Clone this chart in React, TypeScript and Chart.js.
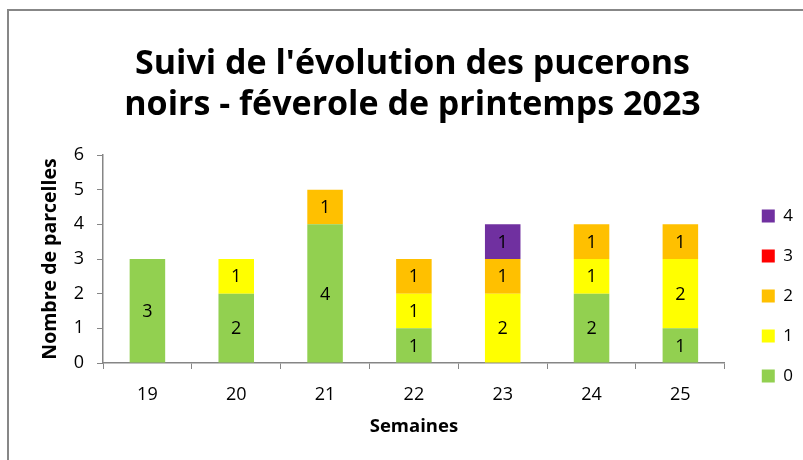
import React, { useEffect, useRef } from "react";
import { Chart, registerables } from "chart.js";

Chart.register(...registerables);

const weeks = ["19", "20", "21", "22", "23", "24", "25"];
const level0 = [3, 2, 4, 1, 0, 2, 1];
const level1 = [0, 1, 0, 1, 2, 1, 2];
const level2 = [0, 0, 1, 1, 1, 1, 1];
const level3 = [0, 0, 0, 0, 0, 0, 0];
const level4 = [0, 0, 0, 0, 1, 0, 0];
const seriesNames = ["0", "1", "2", "3", "4"];
const seriesColors = ["#92D050", "#FFFF00", "#FFC000", "#FF0000", "#7030A0"];
const titleLines = ["Suivi de l'évolution des pucerons", "noirs - féverole de printemps 2023"];
const yAxisTitle = "Nombre de parcelles";
const xAxisTitle = "Semaines";
const yMax = 6;

const FONT = "'Open Sans', sans-serif";

const valueLabels = {
  id: "valueLabels",
  afterDatasetsDraw(chart: any) {
    const ctx = chart.ctx;
    ctx.save();
    ctx.font = `18px ${FONT}`;
    ctx.fillStyle = "#000";
    ctx.textAlign = "center";
    ctx.textBaseline = "middle";
    chart.data.datasets.forEach((ds: any, i: number) => {
      const meta = chart.getDatasetMeta(i);
      meta.data.forEach((el: any, j: number) => {
        const v = ds.data[j];
        if (!v) return;
        ctx.fillText(String(v), el.x, (el.y + el.base) / 2 + 1);
      });
    });
    ctx.restore();
  },
};

export default function App() {
  const ref = useRef<HTMLCanvasElement>(null);
  useEffect(() => {
    if (!ref.current) return;
    const series = [level0, level1, level2, level3, level4];
    const chart = new Chart(ref.current, {
      type: "bar",
      data: {
        labels: weeks,
        datasets: series.map((d, i) => ({
          label: seriesNames[i],
          data: d,
          backgroundColor: seriesColors[i],
          borderWidth: 0,
          barPercentage: 0.4,
          categoryPercentage: 1,
        })),
      },
      options: {
        animation: false,
        responsive: false,
        maintainAspectRatio: false,
        layout: { padding: { left: 22, right: 0, top: 0, bottom: 0 } },
        plugins: {
          title: {
            display: true,
            text: titleLines,
            color: "#000",
            font: { family: FONT, size: 34, weight: "bold", lineHeight: 41 / 34 },
            padding: { top: 43.5, bottom: 29.5 },
          },
          legend: {
            position: "right",
            reverse: true,
            title: {
              display: true,
              text: "",
              font: { size: 12, lineHeight: 1 },
              padding: { top: 0, bottom: 120 },
            },
            labels: {
              color: "#000",
              font: { family: FONT, size: 17 },
              boxWidth: 13,
              boxHeight: 13,
              padding: 23,
            },
          },
          tooltip: { enabled: false },
        },
        scales: {
          x: {
            stacked: true,
            grid: { drawOnChartArea: false, drawTicks: true, tickLength: 6, color: "#868686", offset: true },
            border: { color: "#868686", width: 1.5 },
            ticks: { color: "#000", font: { family: FONT, size: 18 }, padding: 15 },
            title: {
              display: true,
              text: xAxisTitle,
              color: "#000",
              font: { family: FONT, size: 18.5, weight: "bold" },
              padding: { top: 0, bottom: 22 },
            },
            afterFit: (s: any) => {
              s.height = 97;
            },
          },
          y: {
            stacked: true,
            min: 0,
            max: yMax,
            grid: { drawOnChartArea: false, drawTicks: true, tickLength: 6, color: "#868686" },
            border: { color: "#868686", width: 1.5 },
            ticks: { stepSize: 1, color: "#000", font: { family: FONT, size: 18 }, padding: 13 },
            title: {
              display: true,
              text: yAxisTitle,
              color: "#000",
              font: { family: FONT, size: 19.5, weight: "bold" },
              padding: { top: 17, bottom: 0 },
            },
            afterFit: (s: any) => {
              s.width = 81;
            },
          },
          spacer: {
            position: "right",
            display: true,
            grid: { display: false },
            border: { display: false },
            ticks: { display: false },
            afterFit: (s: any) => {
              s.width = 14;
            },
          },
        },
      },
      plugins: [valueLabels],
    } as any);
    return () => chart.destroy();
  }, []);

  return (
    <div style={{ position: "fixed", left: 0, top: 0, width: 803, height: 460, overflow: "hidden", background: "#fff" }}>
      <div
        style={{
          position: "absolute",
          left: 7,
          top: 9,
          width: 900,
          height: 600,
          border: "2px solid #878787",
          boxSizing: "border-box",
        }}
      />
      <canvas ref={ref} width={803} height={460} style={{ position: "absolute", left: 0, top: 0, width: 803, height: 460 }} />
    </div>
  );
}
